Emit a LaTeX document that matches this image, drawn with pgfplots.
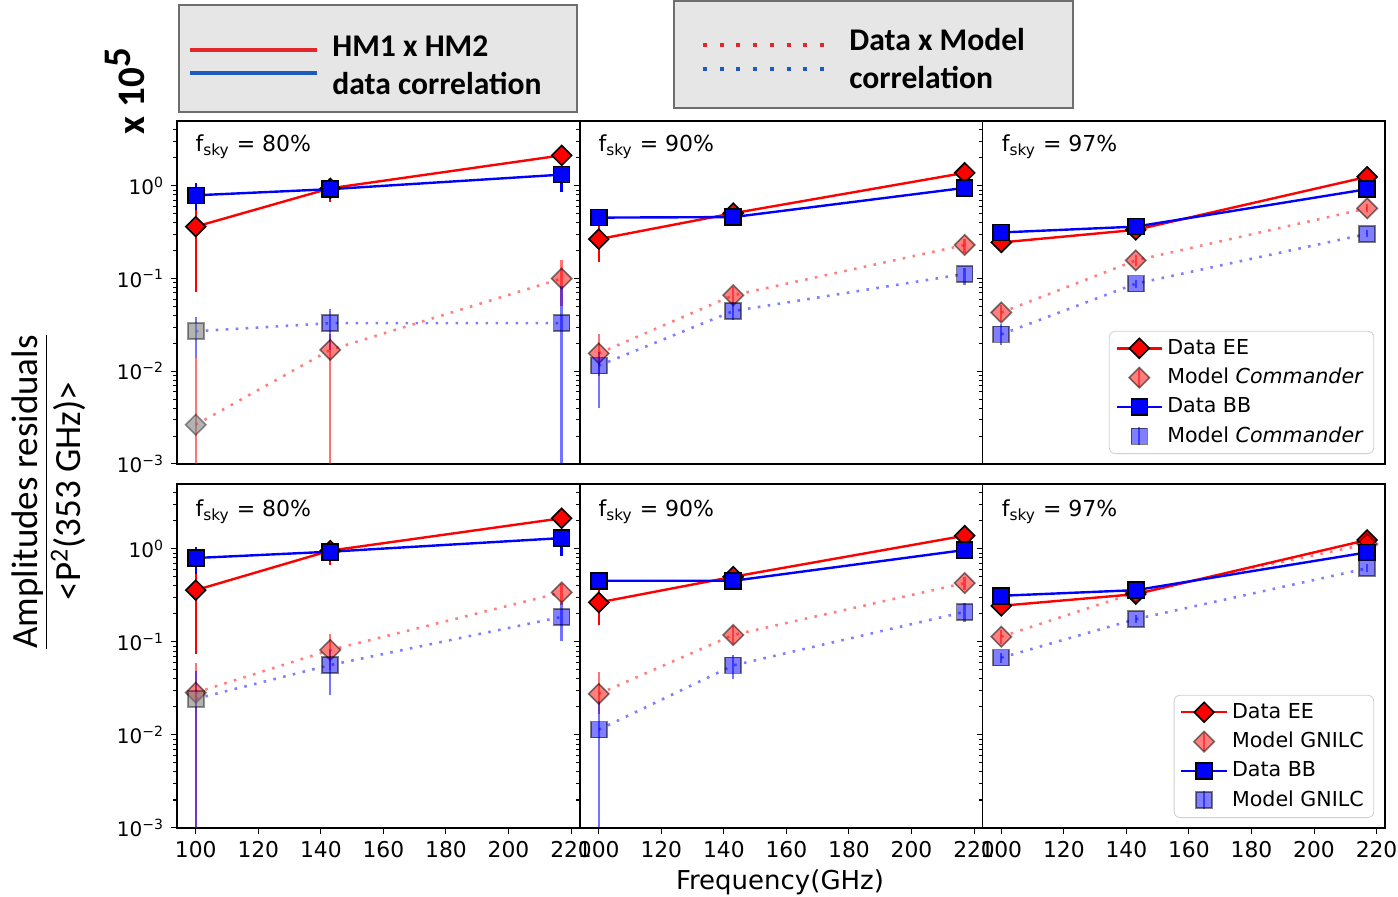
\documentclass[border=0pt]{standalone}
\usepackage{pgfplots}
\pgfplotsset{compat=1.18}
\usepackage{fontspec}
\setmainfont{DejaVu Sans}[ItalicFont={DejaVu Sans Oblique},BoldFont={DejaVu Sans Bold}]
\newfontfamily\calfont{Carlito}

\definecolor{legred}{HTML}{E3262A}
\definecolor{legblue}{HTML}{1A5BC0}
\definecolor{boxgray}{HTML}{E6E6E6}
\definecolor{boxedge}{HTML}{6E6E6E}

\newcommand{\eb}[4]{\addplot[#1] coordinates {(#2,#3) (#2,#4)};}

\pgfplotsset{
  myPanel/.style={scale only axis, width=201.25pt,
    xmin=94, xmax=222.7, ymin=1e-3, ymax=5,
    ytick={0.001,0.01,0.1,1},
    minor ytick={0.002,0.003,0.004,0.005,0.006,0.007,0.008,0.009,
                 0.02,0.03,0.04,0.05,0.06,0.07,0.08,0.09,
                 0.2,0.3,0.4,0.5,0.6,0.7,0.8,0.9,2,3,4},
    tick align=outside, tick pos=left, major tick length=3pt, minor tick length=1.8pt,
    every tick/.style={black, line width=0.5pt},
    axis line style={line width=0.6pt},
    /pgf/number format/assume math mode=true,
    yticklabel style={font=\fontsize{10}{12}\selectfont},
    xticklabel style={font=\fontsize{10.9}{12}\selectfont}},
  myYlab/.style={yticklabels={10\textsuperscript{−3},10\textsuperscript{−2},10\textsuperscript{−1},10\textsuperscript{0}}},
  myNolab/.style={yticklabels={,,,}},
  myTop/.style={xtick=\empty, height=171.5pt},
  myBot/.style={xtick={100,120,...,220}, height=172pt},
  eEE/.style={red, line width=1.2pt, forget plot},
  eBB/.style={blue, line width=1.2pt, forget plot},
  emEE/.style={red, draw opacity=0.55, line width=1.2pt, forget plot},
  emBB/.style={blue, draw opacity=0.55, line width=1.2pt, forget plot},
  sdEE/.style={red, line width=1.2pt, mark=square*, mark size=3.5pt,
     mark options={rotate=45, fill=red, draw=black, line width=0.8pt, solid}},
  sdBB/.style={blue, line width=1.2pt, mark=square*, mark size=4pt,
     mark options={fill=blue, draw=black, line width=0.8pt, solid}},
  dEE/.style={sdEE, forget plot},
  dBB/.style={sdBB, forget plot},
  lEE/.style={red, draw opacity=0.5, line width=1.3pt, line cap=butt, dash pattern=on 1.3pt off 3.7pt, forget plot},
  lBB/.style={blue, draw opacity=0.5, line width=1.3pt, line cap=butt, dash pattern=on 1.3pt off 3.7pt, forget plot},
  smEE/.style={only marks, mark=square*, mark size=3.6pt,
     mark options={rotate=45, fill=red, fill opacity=0.5, draw=black, draw opacity=0.5, line width=0.8pt, solid}},
  smBB/.style={only marks, mark=square*, mark size=4pt,
     mark options={fill=blue, fill opacity=0.5, draw=black, draw opacity=0.5, line width=0.8pt, solid}},
  mEE/.style={smEE, forget plot},
  mBB/.style={smBB, forget plot},
  gEE/.style={only marks, mark=square*, mark size=3.6pt, forget plot,
     mark options={rotate=45, fill=gray, fill opacity=0.6, draw=black, draw opacity=0.4, line width=0.8pt, solid}},
  gBB/.style={only marks, mark=square*, mark size=4pt, forget plot,
     mark options={fill=gray, fill opacity=0.6, draw=black, draw opacity=0.4, line width=0.8pt, solid}},
  legline/.style={legend image code/.code={\draw[mark repeat=2,mark phase=2,##1] plot coordinates {(0cm,0cm) (0.4cm,0cm) (0.8cm,0cm)};}},
  legmarkR/.style={legend image code/.code={\draw[red, draw opacity=0.55, line width=1pt] (0.4cm,-4.5pt) -- (0.4cm,4.5pt); \draw[##1] plot coordinates {(0.4cm,0cm)};}},
  legmarkB/.style={legend image code/.code={\draw[blue, draw opacity=0.55, line width=1pt] (0.4cm,-4.5pt) -- (0.4cm,4.5pt); \draw[##1] plot coordinates {(0.4cm,0cm)};}},
  panlegend/.style={legend cell align=left,
    legend style={at={(0.973,0.029)}, anchor=south east, draw=black!18, rounded corners=3pt,
      fill=white, font=\fontsize{10.3}{12}\selectfont, inner xsep=3pt, inner ysep=2pt, row sep=1.5pt,
      /tikz/every even column/.append style={column sep=3pt}}},
}
\tikzset{fsky/.style={anchor=west, font=\fontsize{11}{13}\selectfont, inner sep=0pt}}

\begin{document}
\begin{tikzpicture}
\path[use as bounding box] (0,0) rectangle (699pt,448.5pt);

%%%%%%%%%%%%%%%% ROW 1 %%%%%%%%%%%%%%%%
\begin{axis}[ymode=log, myPanel, myTop, myYlab, at={(88.5pt,216.5pt)}, anchor=south west]
\eb{eEE}{100}{0.072}{0.60}
\eb{eEE}{143}{0.67}{1.15}
\eb{eEE}{217}{1.9}{2.4}
\addplot[dEE] coordinates {(100,0.363) (143,0.94) (217,2.13)};
\eb{emEE}{100}{0.0001}{0.014}
\eb{emEE}{143}{0.0001}{0.025}
\eb{emEE}{217}{0.05}{0.157}
\addplot[lEE] coordinates {(100,0.00265) (143,0.017) (217,0.100)};
\addplot[gEE] coordinates {(100,0.00265)};
\addplot[mEE] coordinates {(143,0.017) (217,0.100)};
\eb{eBB}{100}{0.55}{1.06}
\eb{eBB}{143}{0.85}{1.0}
\eb{eBB}{217}{0.86}{1.5}
\addplot[dBB] coordinates {(100,0.79) (143,0.92) (217,1.32)};
\eb{emBB}{100}{0.014}{0.0385}
\eb{emBB}{143}{0.017}{0.047}
\eb{emBB}{217}{0.0001}{0.083}
\addplot[lBB] coordinates {(100,0.027) (143,0.033) (217,0.033)};
\addplot[gBB] coordinates {(100,0.027)};
\addplot[mBB] coordinates {(143,0.033) (217,0.033)};
\node[fsky] at (rel axis cs:0.045,0.925) {f\textsubscript{sky} = 80\%};
\end{axis}

\begin{axis}[ymode=log, myPanel, myTop, myNolab, at={(290pt,216.5pt)}, anchor=south west]
\eb{eEE}{100}{0.15}{0.40}
\eb{eEE}{143}{0.45}{0.58}
\addplot[dEE] coordinates {(100,0.266) (143,0.506) (217,1.38)};
\eb{emEE}{100}{0.009}{0.025}
\eb{emEE}{143}{0.05}{0.082}
\eb{emEE}{217}{0.19}{0.27}
\addplot[lEE] coordinates {(100,0.0156) (143,0.066) (217,0.23)};
\addplot[mEE] coordinates {(100,0.0156) (143,0.066) (217,0.23)};
\eb{eBB}{143}{0.40}{0.52}
\addplot[dBB] coordinates {(100,0.454) (143,0.46) (217,0.95)};
\eb{emBB}{100}{0.004}{0.016}
\eb{emBB}{143}{0.036}{0.056}
\eb{emBB}{217}{0.086}{0.13}
\addplot[lBB] coordinates {(100,0.0115) (143,0.0446) (217,0.112)};
\addplot[mBB] coordinates {(100,0.0115) (143,0.0446) (217,0.112)};
\node[fsky] at (rel axis cs:0.045,0.925) {f\textsubscript{sky} = 90\%};
\end{axis}

\begin{axis}[ymode=log, myPanel, myTop, myNolab, panlegend, at={(491.25pt,216.5pt)}, anchor=south west]
\addplot[dEE] coordinates {(100,0.245) (143,0.335) (217,1.25)};
\eb{emEE}{100}{0.035}{0.052}
\eb{emEE}{143}{0.135}{0.18}
\eb{emEE}{217}{0.52}{0.63}
\addplot[lEE] coordinates {(100,0.043) (143,0.157) (217,0.572)};
\addplot[mEE] coordinates {(100,0.043) (143,0.157) (217,0.572)};
\addplot[dBB] coordinates {(100,0.314) (143,0.363) (217,0.92)};
\eb{emBB}{100}{0.019}{0.032}
\eb{emBB}{143}{0.08}{0.097}
\eb{emBB}{217}{0.28}{0.33}
\addplot[lBB] coordinates {(100,0.025) (143,0.088) (217,0.303)};
\addplot[mBB] coordinates {(100,0.025) (143,0.088) (217,0.303)};
\node[fsky] at (rel axis cs:0.047,0.925) {f\textsubscript{sky} = 97\%};
\addlegendimage{sdEE, legline}
\addlegendentry{Data EE}
\addlegendimage{smEE, legmarkR}
\addlegendentry{Model \textit{Commander}}
\addlegendimage{sdBB, legline}
\addlegendentry{Data BB}
\addlegendimage{smBB, legmarkB}
\addlegendentry{Model \textit{Commander}}
\end{axis}

%%%%%%%%%%%%%%%% ROW 2 %%%%%%%%%%%%%%%%
\begin{axis}[ymode=log, myPanel, myBot, myYlab, at={(88.5pt,34.5pt)}, anchor=south west]
\eb{eEE}{100}{0.0737}{0.6}
\eb{eEE}{143}{0.67}{1.2}
\addplot[dEE] coordinates {(100,0.361) (143,0.96) (217,2.14)};
\eb{emEE}{100}{0.0001}{0.06}
\eb{emEE}{143}{0.05}{0.123}
\eb{emEE}{217}{0.25}{0.42}
\addplot[lEE] coordinates {(100,0.0285) (143,0.082) (217,0.341)};
\addplot[mEE] coordinates {(100,0.0285) (143,0.082) (217,0.341)};
\eb{eBB}{100}{0.54}{1.04}
\eb{eBB}{217}{0.85}{1.5}
\addplot[dBB] coordinates {(100,0.80) (143,0.935) (217,1.31)};
\eb{emBB}{100}{0.0001}{0.0487}
\eb{emBB}{143}{0.0266}{0.083}
\eb{emBB}{217}{0.102}{0.26}
\addplot[lBB] coordinates {(100,0.0245) (143,0.0565) (217,0.186)};
\addplot[gBB] coordinates {(100,0.0245)};
\addplot[mBB] coordinates {(143,0.0565) (217,0.186)};
\node[fsky] at (rel axis cs:0.045,0.92) {f\textsubscript{sky} = 80\%};
\end{axis}

\begin{axis}[ymode=log, myPanel, myBot, myNolab, at={(290pt,34.5pt)}, anchor=south west]
\eb{eEE}{100}{0.151}{0.4}
\addplot[dEE] coordinates {(100,0.266) (143,0.503) (217,1.39)};
\eb{emEE}{100}{0.017}{0.0475}
\eb{emEE}{143}{0.095}{0.15}
\eb{emEE}{217}{0.36}{0.5}
\addplot[lEE] coordinates {(100,0.0277) (143,0.119) (217,0.43)};
\addplot[mEE] coordinates {(100,0.0277) (143,0.119) (217,0.43)};
\addplot[dBB] coordinates {(100,0.455) (143,0.455) (217,0.975)};
\eb{emBB}{100}{0.0001}{0.023}
\eb{emBB}{143}{0.04}{0.072}
\eb{emBB}{217}{0.164}{0.26}
\addplot[lBB] coordinates {(100,0.0114) (143,0.056) (217,0.211)};
\addplot[mBB] coordinates {(100,0.0114) (143,0.056) (217,0.211)};
\node[fsky] at (rel axis cs:0.045,0.92) {f\textsubscript{sky} = 90\%};
\end{axis}

\begin{axis}[ymode=log, myPanel, myBot, myNolab, panlegend, at={(491.25pt,34.5pt)}, anchor=south west]
\addplot[dEE] coordinates {(100,0.245) (143,0.327) (217,1.25)};
\eb{emEE}{100}{0.095}{0.135}
\addplot[lEE] coordinates {(100,0.114) (143,0.34) (217,1.13)};
\addplot[mEE] coordinates {(100,0.114) (143,0.34) (217,1.13)};
\addplot[dBB] coordinates {(100,0.314) (143,0.361) (217,0.92)};
\eb{emBB}{100}{0.06}{0.077}
\eb{emBB}{143}{0.16}{0.195}
\eb{emBB}{217}{0.56}{0.69}
\addplot[lBB] coordinates {(100,0.0678) (143,0.176) (217,0.62)};
\addplot[mBB] coordinates {(100,0.0678) (143,0.176) (217,0.62)};
\node[fsky] at (rel axis cs:0.047,0.92) {f\textsubscript{sky} = 97\%};
\addlegendimage{sdEE, legline}
\addlegendentry{Data EE}
\addlegendimage{smEE, legmarkR}
\addlegendentry{Model GNILC}
\addlegendimage{sdBB, legline}
\addlegendentry{Data BB}
\addlegendimage{smBB, legmarkB}
\addlegendentry{Model GNILC}
\end{axis}

%%%%%%%%%%%%%%%% labels %%%%%%%%%%%%%%%%
\node[font=\fontsize{13}{15}\selectfont] at (390pt,7.5pt) {Frequency(GHz)};
\node[rotate=90, font=\calfont\fontsize{18.5}{20}\selectfont] at (15pt,202.5pt) {\underline{Amplitudes residuals}};
\node[rotate=90, font=\calfont\fontsize{18.5}{20}\selectfont] at (34pt,203pt) {<P\textsuperscript{2}(353 GHz)>};
\node[rotate=90, font=\calfont\bfseries\fontsize{19.5}{21}\selectfont] at (62.5pt,403pt) {x 10\raisebox{0.35em}{5}};

%%%%%%%%%%%%%%%% top legends %%%%%%%%%%%%%%%%
\draw[boxedge, line width=1pt, fill=boxgray] (89.5pt,392.5pt) rectangle (288.5pt,446pt);
\draw[legred, line width=2pt] (95pt,423.5pt) -- (158.5pt,423.5pt);
\draw[legblue, line width=2pt] (95pt,412pt) -- (158.5pt,412pt);
\node[anchor=west, inner sep=0pt, font=\calfont\bfseries\fontsize{15.8}{18}\selectfont] at (166pt,425.5pt) {HM1 x HM2};
\node[anchor=west, inner sep=0pt, font=\calfont\bfseries\fontsize{15.8}{18}\selectfont] at (166pt,406.5pt) {data correlation};

\draw[boxedge, line width=1pt, fill=boxgray] (337pt,394.5pt) rectangle (536.5pt,448pt);
\draw[legred, line width=2pt, dash pattern=on 2pt off 6.35pt] (351.5pt,426pt) -- (412pt,426pt);
\draw[legblue, line width=2pt, dash pattern=on 2pt off 6.35pt] (351.5pt,414pt) -- (412pt,414pt);
\node[anchor=west, inner sep=0pt, font=\calfont\bfseries\fontsize{15.8}{18}\selectfont] at (424.5pt,428.5pt) {Data x Model};
\node[anchor=west, inner sep=0pt, font=\calfont\bfseries\fontsize{15.8}{18}\selectfont] at (424.5pt,409.5pt) {correlation};
\end{tikzpicture}
\end{document}
